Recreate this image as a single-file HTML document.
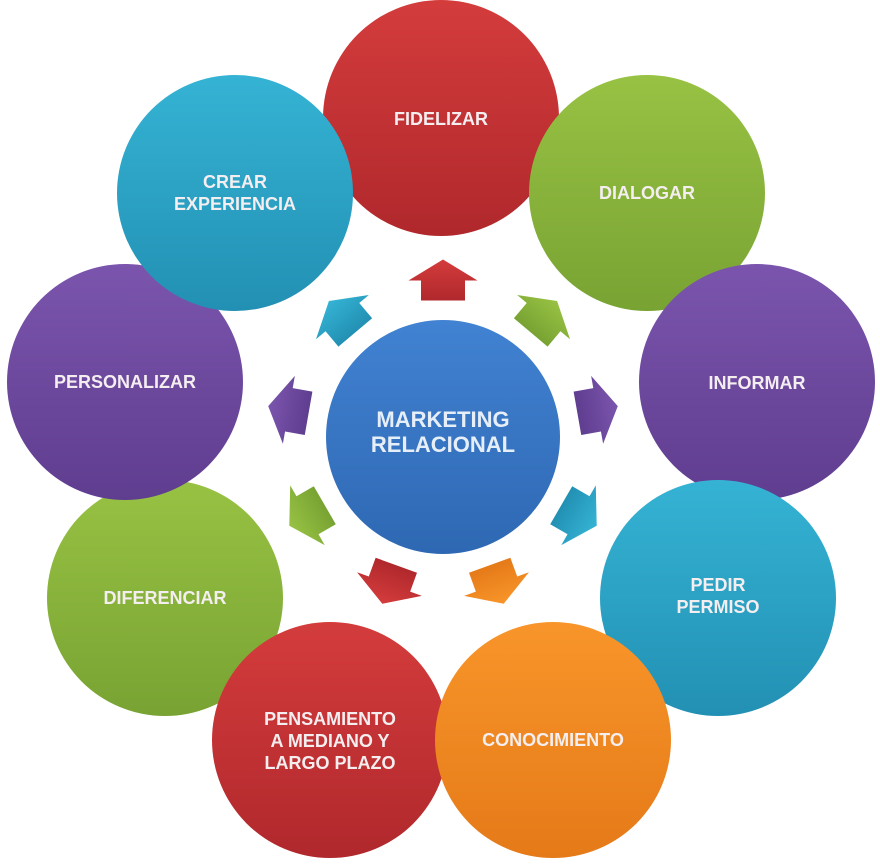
<!DOCTYPE html>
<html><head><meta charset="utf-8"><style>
html,body{margin:0;padding:0;background:#fff;}
svg{display:block;}
text{font-family:"Liberation Sans",Arial,sans-serif;font-weight:bold;fill:#f4eef0;text-anchor:middle;}
</style></head><body>
<svg width="880" height="864" viewBox="0 0 880 864" xmlns="http://www.w3.org/2000/svg">
<defs>
<linearGradient id="gr" x1="0" y1="0" x2="0" y2="1"><stop offset="0" stop-color="#d43c3c"/><stop offset="1" stop-color="#b0282c"/></linearGradient>
<linearGradient id="gg" x1="0" y1="0" x2="0" y2="1"><stop offset="0" stop-color="#98c243"/><stop offset="1" stop-color="#78a333"/></linearGradient>
<linearGradient id="gp" x1="0" y1="0" x2="0" y2="1"><stop offset="0" stop-color="#7b55ad"/><stop offset="1" stop-color="#5f3d8f"/></linearGradient>
<linearGradient id="gt" x1="0" y1="0" x2="0" y2="1"><stop offset="0" stop-color="#35b3d4"/><stop offset="1" stop-color="#2290b3"/></linearGradient>
<linearGradient id="go" x1="0" y1="0" x2="0" y2="1"><stop offset="0" stop-color="#f8952a"/><stop offset="1" stop-color="#e57a18"/></linearGradient>
<linearGradient id="gb" x1="0" y1="0" x2="0" y2="1"><stop offset="0" stop-color="#4182d2"/><stop offset="1" stop-color="#2e68b3"/></linearGradient>
<polygon id="ar" points="0,-20.5 34.5,0.5 22,0.5 22,20.5 -22,20.5 -22,0.5 -34.5,0.5"/>
</defs>

<circle cx="441" cy="118" r="118" fill="url(#gr)"/>
<circle cx="647" cy="193" r="118" fill="url(#gg)"/>
<circle cx="757" cy="382" r="118" fill="url(#gp)"/>
<circle cx="165" cy="598" r="118" fill="url(#gg)"/>
<circle cx="125" cy="382" r="118" fill="url(#gp)"/>
<circle cx="235" cy="193" r="118" fill="url(#gt)"/>
<circle cx="718" cy="598" r="118" fill="url(#gt)"/>
<circle cx="330" cy="740" r="118" fill="url(#gr)"/>
<circle cx="553" cy="740" r="118" fill="url(#go)"/>

<circle cx="443" cy="437" r="117" fill="url(#gb)"/>

<g transform="translate(443,437)">
<use href="#ar" fill="url(#gr)" transform="rotate(0) translate(0,-157)"/>
<use href="#ar" fill="url(#gg)" transform="rotate(40) translate(0,-157)"/>
<use href="#ar" fill="url(#gp)" transform="rotate(80) translate(0,-157)"/>
<use href="#ar" fill="url(#gt)" transform="rotate(120) translate(0,-157)"/>
<use href="#ar" fill="url(#go)" transform="rotate(160) translate(0,-157)"/>
<use href="#ar" fill="url(#gr)" transform="rotate(200) translate(0,-157)"/>
<use href="#ar" fill="url(#gg)" transform="rotate(240) translate(0,-157)"/>
<use href="#ar" fill="url(#gp)" transform="rotate(280) translate(0,-157)"/>
<use href="#ar" fill="url(#gt)" transform="rotate(320) translate(0,-157)"/>
</g>

<g font-size="18">
<text x="441" y="125">FIDELIZAR</text>
<text x="647" y="199">DIALOGAR</text>
<text x="757" y="389">INFORMAR</text>
<text x="718" y="591">PEDIR</text>
<text x="718" y="613">PERMISO</text>
<text x="553" y="746">CONOCIMIENTO</text>
<text x="330" y="725">PENSAMIENTO</text>
<text x="330" y="747">A MEDIANO Y</text>
<text x="330" y="769">LARGO PLAZO</text>
<text x="165" y="604">DIFERENCIAR</text>
<text x="125" y="388">PERSONALIZAR</text>
<text x="235" y="188">CREAR</text>
<text x="235" y="210">EXPERIENCIA</text>
</g>
<g font-size="22">
<text x="443" y="427" style="fill:#e6eef8">MARKETING</text>
<text x="443" y="452" style="fill:#e6eef8">RELACIONAL</text>
</g>
</svg>
</body></html>
